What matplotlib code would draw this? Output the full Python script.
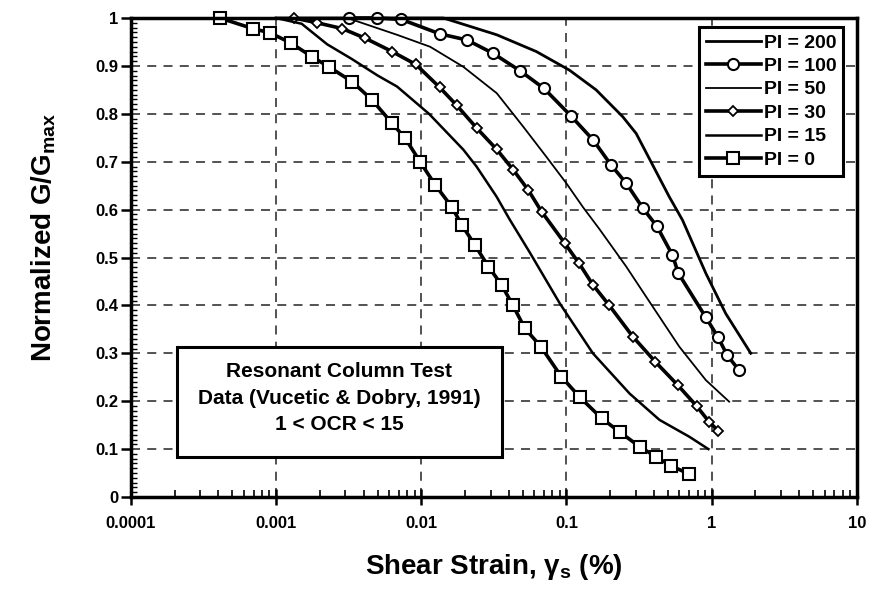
import numpy as np
import matplotlib
matplotlib.use('Agg')
import matplotlib.pyplot as plt
from matplotlib.ticker import FixedLocator, MultipleLocator, FuncFormatter, LogLocator, NullFormatter
from matplotlib.patches import Rectangle

plt.rcParams['font.family'] = ['Liberation Sans', 'DejaVu Sans']
plt.rcParams['font.weight'] = 'bold'
plt.rcParams['mathtext.fontset'] = 'custom'
plt.rcParams['mathtext.bf'] = 'Liberation Sans:bold'
plt.rcParams['mathtext.rm'] = 'Liberation Sans:bold'
plt.rcParams['mathtext.default'] = 'bf'

# values (shear strain in %, G/Gmax)
pi0_x = [4.1e-4, 6.9e-4, 9.1e-4, 1.26e-3, 1.77e-3, 2.31e-3, 3.34e-3, 4.58e-3, 6.3e-3, 7.75e-3,
         9.8e-3, 0.0125, 0.0162, 0.019, 0.0234, 0.029, 0.0357, 0.0426, 0.0517, 0.0666,
         0.0923, 0.123, 0.175, 0.232, 0.319, 0.414, 0.525, 0.70]
pi0_y = [1.0, 0.978, 0.969, 0.948, 0.919, 0.898, 0.867, 0.829, 0.780, 0.749,
         0.700, 0.651, 0.606, 0.568, 0.526, 0.481, 0.443, 0.401, 0.352, 0.314,
         0.251, 0.209, 0.164, 0.136, 0.105, 0.084, 0.065, 0.048]

pi15_x = [1.0e-3, 1.5e-3, 2.25e-3, 3.3e-3, 5.0e-3, 6.8e-3, 0.0113, 0.0195, 0.024, 0.033,
          0.0405, 0.056, 0.09, 0.152, 0.272, 0.437, 0.70, 0.95]
pi15_y = [1.0, 0.988, 0.945, 0.915, 0.88, 0.857, 0.80, 0.725, 0.69, 0.627,
          0.58, 0.51, 0.404, 0.30, 0.216, 0.161, 0.126, 0.10]

pi30_x = [1.33e-3, 1.92e-3, 2.85e-3, 4.1e-3, 6.29e-3, 9.18e-3, 0.0134, 0.0175, 0.0241, 0.033,
          0.043, 0.0545, 0.0673, 0.0972, 0.122, 0.152, 0.196, 0.286, 0.41, 0.582,
          0.787, 0.96, 1.11]
pi30_y = [1.0, 0.99, 0.978, 0.958, 0.93, 0.903, 0.855, 0.818, 0.770, 0.726,
          0.683, 0.641, 0.596, 0.53, 0.488, 0.443, 0.401, 0.335, 0.282, 0.234,
          0.19, 0.157, 0.138]

pi50_x = [3.1e-3, 6.8e-3, 0.0115, 0.0195, 0.0331, 0.0504, 0.0728, 0.0998, 0.13, 0.168,
          0.258, 0.354, 0.598, 0.912, 1.32]
pi50_y = [1.0, 0.965, 0.94, 0.898, 0.843, 0.773, 0.71, 0.655, 0.605, 0.56,
          0.481, 0.418, 0.314, 0.244, 0.199]

pi100_x = [3.18e-3, 4.96e-3, 7.3e-3, 0.0134, 0.0207, 0.0313, 0.0478, 0.07, 0.107, 0.153,
           0.203, 0.258, 0.336, 0.42, 0.537, 0.59, 0.912, 1.10, 1.28, 1.54]
pi100_y = [1.0, 1.0, 0.997, 0.967, 0.954, 0.926, 0.89, 0.853, 0.796, 0.745,
           0.693, 0.655, 0.603, 0.565, 0.505, 0.467, 0.375, 0.335, 0.296, 0.265]

pi200_x = [1.0e-3, 0.0142, 0.0331, 0.062, 0.105, 0.16, 0.244, 0.302, 0.51, 0.63,
           0.912, 1.25, 1.86]
pi200_y = [1.0, 1.0, 0.965, 0.93, 0.891, 0.85, 0.794, 0.759, 0.627, 0.578,
           0.467, 0.383, 0.30]

x_ticks = [1e-4, 1e-3, 1e-2, 1e-1, 1, 10]
x_ticklabels = ['0.0001', '0.001', '0.01', '0.1', '1', '10']

fig = plt.figure(figsize=(8.69, 5.93), dpi=100)
ax = fig.add_axes([0.1507, 0.1619, 0.8353, 0.8077])

ax.set_xscale('log')
ax.set_xlim(1e-4, 10)
ax.set_ylim(0, 1)

# dashed grid lines
ax.set_axisbelow(True)
for gx in [1e-3, 1e-2, 1e-1, 1]:
    ax.axvline(gx, color='#444444', lw=1.3, ls=(0, (5, 4)), zorder=0)
for gy in np.arange(1, 10) / 10:
    ax.axhline(gy, color='#444444', lw=1.3, ls=(0, (5, 4)), zorder=0)

ax.plot(pi200_x, pi200_y, color='black', lw=2.0, label='PI = 200', clip_on=False)
ax.plot(pi100_x, pi100_y, color='black', lw=2.6, marker='o', ms=8, mfc='white',
        mec='black', mew=1.5, label='PI = 100', clip_on=False)
ax.plot(pi50_x, pi50_y, color='black', lw=1.3, label='PI = 50', clip_on=False)
ax.plot(pi30_x, pi30_y, color='black', lw=2.6, marker='D', ms=5, mfc='white',
        mec='black', mew=1.3, label='PI = 30', clip_on=False)
ax.plot(pi15_x, pi15_y, color='black', lw=1.8, label='PI = 15', clip_on=False)
ax.plot(pi0_x, pi0_y, color='black', lw=2.6, marker='s', ms=8.5, mfc='white',
        mec='black', mew=1.5, label='PI = 0', clip_on=False)

for sp in ax.spines.values():
    sp.set_linewidth(2.5)

ax.xaxis.set_major_locator(FixedLocator(x_ticks))
ax.set_xticklabels(x_ticklabels)
ax.xaxis.set_minor_locator(LogLocator(base=10, subs=np.arange(2, 10)))
ax.xaxis.set_minor_formatter(NullFormatter())
ax.yaxis.set_major_locator(MultipleLocator(0.1))
ax.yaxis.set_minor_locator(MultipleLocator(0.01))
ax.yaxis.set_major_formatter(FuncFormatter(lambda v, p: '%g' % round(v, 1)))

ax.tick_params(axis='x', which='major', direction='inout', length=12, width=1.8,
               labelsize=12, pad=8, top=False)
ax.tick_params(axis='x', which='minor', direction='in', length=5, width=1.2, top=False)
ax.tick_params(axis='y', which='major', direction='out', length=7, width=1.8,
               labelsize=12, pad=2, right=False)
ax.tick_params(axis='y', which='minor', direction='in', length=4, width=1.0, right=False)
for lab in ax.get_xticklabels() + ax.get_yticklabels():
    lab.set_fontweight('bold')

ax.set_xlabel('Shear Strain, γ$_{s}$ (%)', fontsize=20, fontweight='bold')
ax.xaxis.set_label_coords(0.5, -0.115)
ax.set_ylabel('Normalized G/G$_{max}$', fontsize=20, fontweight='bold')
ax.yaxis.set_label_coords(-0.1, 0.543)

leg = ax.legend(loc='upper right', bbox_to_anchor=(0.981, 0.981), borderaxespad=0,
                fancybox=False, framealpha=1, edgecolor='black', fontsize=14,
                handlelength=2.8, handletextpad=0.15, labelspacing=0.3,
                borderpad=0.35, numpoints=1)
leg.get_frame().set_linewidth(2.2)
for t in leg.get_texts():
    t.set_fontweight('bold')

# annotation box
ax.add_patch(Rectangle((0.0634, 0.0835), 0.4476, 0.2295, transform=ax.transAxes,
                       facecolor='white', edgecolor='black', lw=2.2, zorder=3))
ax.text(0.287, 0.206, 'Resonant Column Test\nData (Vucetic & Dobry, 1991)\n1 < OCR < 15',
        transform=ax.transAxes, ha='center', va='center', multialignment='center',
        fontsize=15, fontweight='bold', linespacing=1.5, zorder=4)

fig.savefig('out.png', dpi=100)
